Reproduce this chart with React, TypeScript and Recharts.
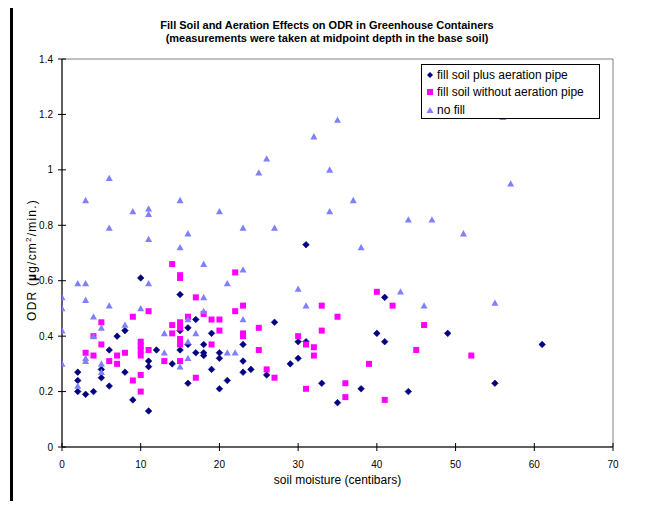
import React from 'react';
import { ScatterChart, Scatter, XAxis, YAxis, ReferenceArea } from 'recharts';

// fill soil plus aeration pipe: [soil moisture, ODR]
const pipePoints: [number, number][] = [
  [2, 0.27], [2, 0.24], [2, 0.20], [3, 0.19], [4, 0.20], [5, 0.28], [5, 0.25], [6, 0.35], [6, 0.22],
  [7, 0.40], [8, 0.42], [8, 0.27], [9, 0.17], [10, 0.61], [11, 0.31], [11, 0.29], [11, 0.13], [12, 0.35],
  [14, 0.30], [15, 0.55], [15, 0.42], [15, 0.35], [16, 0.43], [16, 0.37], [16, 0.23], [17, 0.46], [17, 0.34],
  [18, 0.37], [18, 0.34], [18, 0.33], [19, 0.41], [19, 0.28], [20, 0.34], [20, 0.32], [20, 0.21], [21, 0.24],
  [23, 0.37], [23, 0.31], [23, 0.27], [24, 0.28], [26, 0.26], [27, 0.45], [29, 0.30], [30, 0.38], [30, 0.32],
  [31, 0.73], [31, 0.38], [33, 0.23], [35, 0.16], [38, 0.21], [40, 0.41], [41, 0.54], [41, 0.38], [44, 0.20],
  [49, 0.41], [55, 0.23], [61, 0.37],
];

// fill soil without aeration pipe
const noPipePoints: [number, number][] = [
  [3, 0.34], [4, 0.40], [4, 0.33], [5, 0.45], [5, 0.37], [6, 0.31], [7, 0.33], [7, 0.30], [8, 0.34],
  [9, 0.47], [9, 0.24], [10, 0.38], [10, 0.365], [10, 0.35], [10, 0.33], [10, 0.26], [10, 0.20], [11, 0.49],
  [11, 0.35], [13, 0.31], [14, 0.66], [14, 0.44], [14, 0.41], [15, 0.62], [15, 0.61], [15, 0.45], [15, 0.43],
  [15, 0.39], [15, 0.37], [15, 0.31], [16, 0.47], [17, 0.54], [17, 0.25], [18, 0.48], [19, 0.46], [19, 0.37],
  [20, 0.46], [20, 0.42], [22, 0.63], [22, 0.49], [23, 0.51], [23, 0.41], [23, 0.40], [25, 0.43], [25, 0.35],
  [26, 0.28], [27, 0.25], [30, 0.40], [31, 0.37], [31, 0.21], [32, 0.36], [32, 0.33], [33, 0.51], [33, 0.42],
  [35, 0.47], [36, 0.23], [36, 0.18], [39, 0.30], [40, 0.56], [41, 0.17], [42, 0.51], [45, 0.35], [46, 0.44],
  [52, 0.33],
];

// no fill
const noFillPoints: [number, number][] = [
  [0, 0.54], [0, 0.50], [0, 0.42], [0, 0.30], [2, 0.59], [2, 0.22], [3, 0.89], [3, 0.59], [3, 0.53],
  [3, 0.32], [3, 0.31], [4, 0.47], [4, 0.40], [5, 0.43], [5, 0.30], [5, 0.27], [6, 0.97], [6, 0.79],
  [6, 0.51], [8, 0.44], [9, 0.85], [10, 0.50], [11, 0.86], [11, 0.84], [11, 0.75], [11, 0.59], [13, 0.41],
  [13, 0.34], [15, 0.89], [15, 0.72], [15, 0.29], [16, 0.77], [16, 0.46], [16, 0.38], [16, 0.32], [17, 0.41],
  [18, 0.66], [18, 0.54], [18, 0.49], [20, 0.85], [21, 0.59], [21, 0.34], [22, 0.34], [23, 0.79], [23, 0.64],
  [23, 0.46], [25, 0.99], [26, 1.04], [27, 0.79], [30, 0.57], [31, 0.51], [32, 1.12], [34, 1.0], [34, 0.85],
  [35, 1.18], [37, 0.89], [38, 0.72], [43, 0.56], [44, 0.82], [46, 0.51], [47, 0.82], [51, 0.77], [55, 0.52],
  [56, 1.19], [57, 0.95],
];

const xTicks = [0, 10, 20, 30, 40, 50, 60, 70];
const yTicks = [0, 0.2, 0.4, 0.6, 0.8, 1, 1.2, 1.4];

const seriesNames = ['fill soil plus aeration pipe', 'fill soil without aeration pipe', 'no fill'];
const chartTitle = ['Fill Soil and Aeration Effects on ODR in Greenhouse Containers', '(measurements were taken at midpoint depth in the base soil)'];
const xTitle = 'soil moisture (centibars)';

const toRows = (pts: [number, number][]) => pts.map(([x, y]) => ({ x, y }));

const NAVY = '#000080';
const MAGENTA = '#FF00FF';
const LILAC = '#8080FF';
const FONT = '"Liberation Sans", Arial, sans-serif';

const Diamond = (p: any) => {
  const { cx, cy } = p;
  const r = 3.3;
  return <polygon points={`${cx},${cy - r} ${cx + r},${cy} ${cx},${cy + r} ${cx - r},${cy}`} fill={NAVY} stroke={NAVY} strokeWidth={0.6} />;
};
const Square = (p: any) => {
  const { cx, cy } = p;
  return <rect x={cx - 3} y={cy - 3} width={6} height={6} fill={MAGENTA} />;
};
const Triangle = (p: any) => {
  const { cx, cy } = p;
  return <polygon points={`${cx},${cy - 3.5} ${cx + 3.5},${cy + 2.8} ${cx - 3.5},${cy + 2.8}`} fill={LILAC} />;
};

const XTick = (p: any) => {
  const { x, y, payload } = p;
  const axisY = y - 4;
  return (
    <g>
      <line x1={x} x2={x} y1={axisY - 4} y2={axisY + 4} stroke="#000" strokeWidth={1} />
      <text x={x} y={axisY + 21} textAnchor="middle" fontSize={10} fontFamily={FONT} fill="#000">{payload.value}</text>
    </g>
  );
};
const YTick = (p: any) => {
  const { x, y, payload } = p;
  const axisX = x + 4;
  return (
    <g>
      <line x1={axisX - 4} x2={axisX + 4} y1={y} y2={y} stroke="#000" strokeWidth={1} />
      <text x={axisX - 9} y={y + 3.5} textAnchor="end" fontSize={10} fontFamily={FONT} fill="#000">{String(payload.value)}</text>
    </g>
  );
};

const LegendMarker = ({ kind }: { kind: number }) => (
  <svg width={8} height={8} style={{ marginRight: 3, flexShrink: 0 }}>
    {kind === 0 && <polygon points="4,1 7,4 4,7 1,4" fill={NAVY} />}
    {kind === 1 && <rect x={1} y={1} width={6} height={6} fill={MAGENTA} />}
    {kind === 2 && <polygon points="4,1 7.5,7 0.5,7" fill={LILAC} />}
  </svg>
);

export default function App() {
  return (
    <div style={{ position: 'relative', width: 654, height: 509, margin: -8, overflow: 'hidden', background: '#fff', fontFamily: FONT }}>
      <div style={{ position: 'absolute', left: 10, top: 3, width: 700, height: 600, borderLeft: '3px solid #000', borderTop: '2px solid #000' }} />
      <div style={{ position: 'absolute', left: 0, top: 0 }}>
        <ScatterChart width={654} height={509} margin={{ top: 59, right: 41, bottom: 22, left: 0 }}>
          <ReferenceArea x1={0} x2={70} y1={0} y2={1.4} fill="none" stroke="#808080" strokeWidth={1} ifOverflow="visible" />
          <XAxis
            type="number"
            dataKey="x"
            domain={[0, 70]}
            ticks={xTicks}
            allowDataOverflow
            height={40}
            tickSize={4}
            tickMargin={0}
            tickLine={false}
            axisLine={{ stroke: '#000', strokeWidth: 1 }}
            tick={<XTick />}
            interval={0}
          />
          <YAxis
            type="number"
            dataKey="y"
            domain={[0, 1.4]}
            ticks={yTicks}
            allowDataOverflow
            width={62}
            tickSize={4}
            tickMargin={0}
            tickLine={false}
            axisLine={{ stroke: '#000', strokeWidth: 1 }}
            tick={<YTick />}
            interval={0}
          />
          <Scatter name={seriesNames[0]} data={toRows(pipePoints)} shape={<Diamond />} isAnimationActive={false} />
          <Scatter name={seriesNames[1]} data={toRows(noPipePoints)} shape={<Square />} isAnimationActive={false} />
          <Scatter name={seriesNames[2]} data={toRows(noFillPoints)} shape={<Triangle />} isAnimationActive={false} />
        </ScatterChart>
      </div>
      <div style={{ position: 'absolute', left: 0, width: 654, top: 19, textAlign: 'center', fontWeight: 'bold', fontSize: 11, lineHeight: '13px', color: '#000' }}>
        <div>{chartTitle[0]}</div>
        <div>{chartTitle[1]}</div>
      </div>
      <div style={{ position: 'absolute', left: 62, width: 551, top: 473, textAlign: 'center', fontSize: 12, color: '#000' }}>{xTitle}</div>
      <div style={{ position: 'absolute', left: 32, top: 260, transform: 'translate(-50%, -50%) rotate(-90deg)', whiteSpace: 'nowrap', fontSize: 12, letterSpacing: 1.2, color: '#000' }}>
        ODR (<b>µ</b>g/cm<sup style={{ fontSize: 8, verticalAlign: 'super', lineHeight: 0 }}>2</sup>/min.)
      </div>
      <div style={{ position: 'absolute', left: 421, top: 64, width: 179, height: 55, border: '1px solid #000', background: '#fff', fontSize: 12, color: '#000', padding: '1px 0 0 4px', boxSizing: 'border-box' }}>
        {seriesNames.map((n, i) => (
          <div key={n} style={{ display: 'flex', alignItems: 'center', height: 17.5 }}>
            <LegendMarker kind={i} />
            <span>{n}</span>
          </div>
        ))}
      </div>
    </div>
  );
}
